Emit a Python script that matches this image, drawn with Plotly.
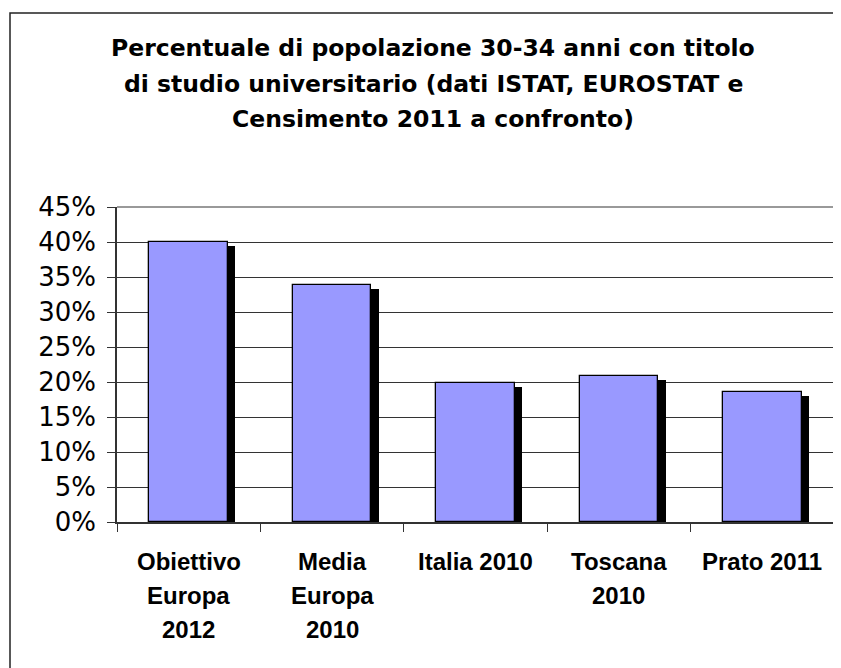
import plotly.graph_objects as go

categories = ["Obiettivo<br>Europa<br>2012", "Media<br>Europa<br>2010", "Italia 2010", "Toscana<br>2010", "Prato 2011"]
values = [0.40, 0.338, 0.198, 0.208, 0.186]
title_lines = [
    "Percentuale di popolazione 30-34 anni con titolo",
    "di studio universitario (dati ISTAT, EUROSTAT e",
    "Censimento 2011 a confronto)",
]

# page is offset by the 8px default body margin
W, H = 841, 668
L, R, T, B = 109, 15, 199, 154
pw, ph = W - L - R, H - T - B
FONT = "Liberation Sans, Arial, sans-serif"
WIDE = "DejaVu Sans, sans-serif"

x_idx = list(range(len(categories)))
bar_w = 0.547
shadow_dx = 7.5 / (pw / len(categories))
shadow_dy = 4 / ph * 0.45

fig = go.Figure()
fig.add_trace(go.Bar(
    x=x_idx, y=[v - shadow_dy for v in values],
    width=bar_w, offset=-bar_w / 2 + shadow_dx,
    marker=dict(color="black", line=dict(width=0)),
    hoverinfo="skip", showlegend=False,
))
fig.add_trace(go.Bar(
    x=x_idx, y=values,
    width=bar_w, offset=-bar_w / 2,
    marker=dict(color="#9999FF", line=dict(color="black", width=1.3)),
    showlegend=False,
))

annotations = []
for k, line in enumerate(title_lines):
    annotations.append(dict(
        text=line, xref="paper", yref="paper",
        x=(425 - L) / pw, y=1 + (T - (40 + 35.5 * k)) / ph,
        xanchor="center", yanchor="middle", showarrow=False,
        font=dict(family=WIDE, size=23.5, color="black", weight="bold"),
    ))
for i, cat in enumerate(categories):
    for k, line in enumerate(cat.split("<br>")):
        annotations.append(dict(
            text=line, xref="x", yref="paper", x=i, y=0,
            xanchor="center", yanchor="middle", yshift=-(39 + 34 * k),
            showarrow=False,
            font=dict(family=FONT, size=24, color="black", weight="bold"),
        ))

shapes = [
    # outer chart border
    dict(type="rect", xref="paper", yref="paper",
         x0=(2 - L) / pw, x1=(W + 20 - L) / pw,
         y0=-(B + 20) / ph, y1=1 + (T - 5) / ph,
         line=dict(color="#222222", width=1.5), layer="below"),
    # plot-area border (top/right)
    dict(type="line", xref="paper", yref="paper", x0=0, x1=1, y0=1, y1=1,
         line=dict(color="#999999", width=2)),
    dict(type="line", xref="paper", yref="paper", x0=1, x1=1, y0=0, y1=1,
         line=dict(color="#999999", width=2)),
]

fig.update_layout(
    width=W, height=H,
    margin=dict(l=L, r=R, t=T, b=B, autoexpand=False),
    paper_bgcolor="white", plot_bgcolor="white",
    barmode="overlay", bargap=0,
    annotations=annotations, shapes=shapes,
    font=dict(family=FONT, color="black"),
    xaxis=dict(
        range=[-0.5, len(categories) - 0.5],
        tickmode="array", tickvals=[i - 0.5 for i in range(len(categories) + 1)],
        showticklabels=False, ticks="outside", ticklen=8, tickcolor="#333333",
        showline=True, linecolor="#333333", linewidth=1.5,
        showgrid=False, zeroline=False,
    ),
    yaxis=dict(
        range=[0, 0.45], dtick=0.05, tickformat=".0%",
        ticks="outside", ticklen=8, tickcolor="#333333",
        showline=True, linecolor="#333333", linewidth=1.5,
        showgrid=True, gridcolor="#333333", gridwidth=1,
        zeroline=False,
        tickfont=dict(family=WIDE, size=26, color="black"),
        ticklabelstandoff=6,
    ),
)

fig.write_html("out.html")
